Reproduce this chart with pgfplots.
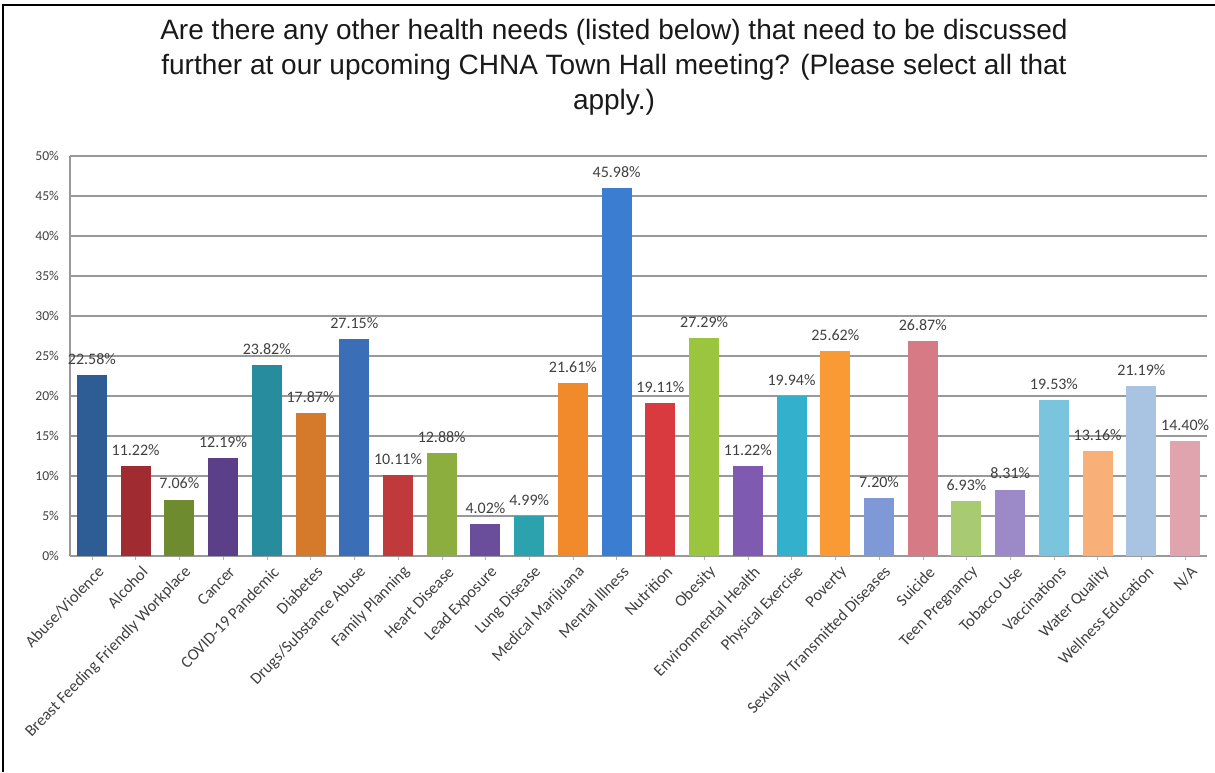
\documentclass[border=0pt]{standalone}
\usepackage{pgfplots}
\pgfplotsset{compat=1.18}
\usepackage{fontspec}
\setmainfont{Carlito}
\newfontfamily\titlefont{Liberation Sans}
\definecolor{c1}{HTML}{2E5C94}
\definecolor{c2}{HTML}{A02B30}
\definecolor{c3}{HTML}{6E8C2F}
\definecolor{c4}{HTML}{5B3F88}
\definecolor{c5}{HTML}{278C9E}
\definecolor{c6}{HTML}{D5792A}
\definecolor{c7}{HTML}{3A6FB8}
\definecolor{c8}{HTML}{C03A3C}
\definecolor{c9}{HTML}{8BAE3E}
\definecolor{c10}{HTML}{6A4E9C}
\definecolor{c11}{HTML}{2DA2AF}
\definecolor{c12}{HTML}{F08A2A}
\definecolor{c13}{HTML}{3B7DD1}
\definecolor{c14}{HTML}{D83A40}
\definecolor{c15}{HTML}{9BC53F}
\definecolor{c16}{HTML}{7E5BB0}
\definecolor{c17}{HTML}{33B0CC}
\definecolor{c18}{HTML}{F99A35}
\definecolor{c19}{HTML}{7F98D6}
\definecolor{c20}{HTML}{D67A86}
\definecolor{c21}{HTML}{A8CB72}
\definecolor{c22}{HTML}{9B89C8}
\definecolor{c23}{HTML}{7BC4DE}
\definecolor{c24}{HTML}{F9B078}
\definecolor{c25}{HTML}{A9C3E3}
\definecolor{c26}{HTML}{E0A4AE}
\begin{document}
\begin{tikzpicture}
\path[use as bounding box] (0,0) rectangle (607.5pt,386pt);
\draw[line width=1.2pt] (1.5pt,0pt) -- (1.5pt,383.5pt) -- (607.5pt,383.5pt);
\node[align=center, font=\titlefont\fontsize{14}{17.5}\selectfont, text=black!90] at (307pt,352.5pt)
 {Are there any other health needs (listed below) that need to be discussed\\
  further at our upcoming CHNA Town Hall meeting? (Please select all that\\
  apply.)};
\begin{axis}[
  at={(35pt,108pt)}, anchor=south west,
  scale only axis, width=568.5pt, height=200pt,
  ymin=0, ymax=50, xmin=-0.5, xmax=25.5,
  ytick={0,5,...,50},
  yticklabels={0\%,5\%,10\%,15\%,20\%,25\%,30\%,35\%,40\%,45\%,50\%},
  xtick={0,...,25},
  xticklabels={Abuse/Violence,Alcohol,Breast Feeding Friendly Workplace,Cancer,COVID-19 Pandemic,Diabetes,Drugs/Substance Abuse,Family Planning,Heart Disease,Lead Exposure,Lung Disease,Medical Marijuana,Mental Illness,Nutrition,Obesity,Environmental Health,Physical Exercise,Poverty,Sexually Transmitted Diseases,Suicide,Teen Pregnancy,Tobacco Use,Vaccinations,Water Quality,Wellness Education,N/A},
  ymajorgrids, grid style={gray!80, line width=0.6pt},
  axis x line*=bottom, axis y line*=left,
  axis line style={gray!80, line width=0.6pt},
  major tick length=2pt, tick style={gray!60},
  ytick style={draw=none},
  yticklabel style={font=\fontsize{6.8}{8}\selectfont, text=black!75, xshift=-2pt},
  xticklabel style={rotate=46, anchor=east, font=\fontsize{8.2}{9}\selectfont, text=black!75, inner sep=1pt, yshift=-6.5pt, xshift=1pt},
  ybar, bar width=15pt,
  every axis plot/.append style={bar shift=0pt, draw=none},
  nodes near coords={\pgfmathprintnumber[fixed,fixed zerofill,precision=2,assume math mode=true]{\pgfplotspointmeta}\%},
  nodes near coords style={font=\fontsize{8}{9}\selectfont, text=black!75, inner sep=2pt, yshift=3pt},
]
\addplot[fill=c1] coordinates {(0,22.58)};
\addplot[fill=c2] coordinates {(1,11.22)};
\addplot[fill=c3] coordinates {(2,7.06)};
\addplot[fill=c4] coordinates {(3,12.19)};
\addplot[fill=c5] coordinates {(4,23.82)};
\addplot[fill=c6] coordinates {(5,17.87)};
\addplot[fill=c7] coordinates {(6,27.15)};
\addplot[fill=c8] coordinates {(7,10.11)};
\addplot[fill=c9] coordinates {(8,12.88)};
\addplot[fill=c10] coordinates {(9,4.02)};
\addplot[fill=c11] coordinates {(10,4.99)};
\addplot[fill=c12] coordinates {(11,21.61)};
\addplot[fill=c13] coordinates {(12,45.98)};
\addplot[fill=c14] coordinates {(13,19.11)};
\addplot[fill=c15] coordinates {(14,27.29)};
\addplot[fill=c16] coordinates {(15,11.22)};
\addplot[fill=c17] coordinates {(16,19.94)};
\addplot[fill=c18] coordinates {(17,25.62)};
\addplot[fill=c19] coordinates {(18,7.20)};
\addplot[fill=c20] coordinates {(19,26.87)};
\addplot[fill=c21] coordinates {(20,6.93)};
\addplot[fill=c22] coordinates {(21,8.31)};
\addplot[fill=c23] coordinates {(22,19.53)};
\addplot[fill=c24] coordinates {(23,13.16)};
\addplot[fill=c25] coordinates {(24,21.19)};
\addplot[fill=c26] coordinates {(25,14.40)};
\end{axis}
\end{tikzpicture}
\end{document}
